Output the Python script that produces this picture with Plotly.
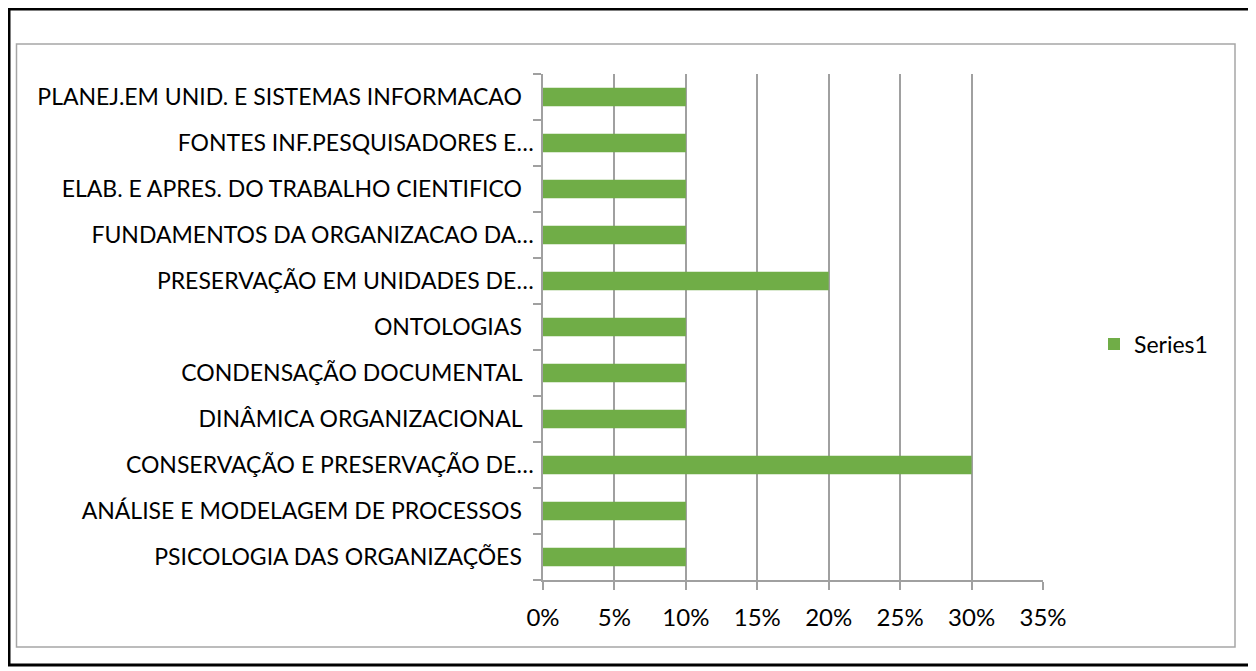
import plotly.graph_objects as go

# Categories listed bottom-to-top (as in the source chart)
categories = [
    "PSICOLOGIA DAS ORGANIZAÇÕES",
    "ANÁLISE E MODELAGEM DE PROCESSOS",
    "CONSERVAÇÃO E PRESERVAÇÃO DE…",
    "DINÂMICA ORGANIZACIONAL",
    "CONDENSAÇÃO DOCUMENTAL",
    "ONTOLOGIAS",
    "PRESERVAÇÃO EM UNIDADES DE…",
    "FUNDAMENTOS DA ORGANIZACAO DA…",
    "ELAB. E APRES. DO TRABALHO CIENTIFICO",
    "FONTES INF.PESQUISADORES E…",
    "PLANEJ.EM UNID. E SISTEMAS INFORMACAO",
]
series1 = [0.10, 0.10, 0.30, 0.10, 0.10, 0.10, 0.20, 0.10, 0.10, 0.10, 0.10]
x_ticks = [0, 0.05, 0.10, 0.15, 0.20, 0.25, 0.30, 0.35]
x_ticktext = ["0%", "5%", "10%", "15%", "20%", "25%", "30%", "35%"]

# labels that are not truncated carry trailing space in the original
ticktext = [c if c.endswith("…") else c + "\u00a0\u00a0" for c in categories]

# page body has an 8px margin -> work in page pixels and offset
OFF = 8
W, H = 1256 - OFF, 671 - OFF
L, R, T, B = 543 - OFF, 1043 - OFF, 74 - OFF, 580 - OFF

FONT = "Lato, 'Open Sans', sans-serif"
LINE = "#A0A0A0"

fig = go.Figure(
    go.Bar(
        x=series1,
        y=categories,
        orientation="h",
        name="Series1",
        marker=dict(color="#70AD47", line=dict(width=0)),
        showlegend=True,
    )
)

def px2x(px):
    return (px - OFF - L) / (R - L)

def py2y(py):
    return (B - (py - OFF)) / (B - T)

fig.update_layout(
    width=W,
    height=H,
    margin=dict(l=L, r=W - R, t=T, b=H - B, pad=0),
    paper_bgcolor="white",
    plot_bgcolor="white",
    font=dict(family=FONT, size=23, color="#000000"),
    bargap=0.6,
    showlegend=True,
    legend=dict(
        x=px2x(1094),
        y=py2y(344),
        xanchor="left",
        yanchor="middle",
        font=dict(family=FONT, size=23, color="#000000"),
        bgcolor="rgba(0,0,0,0)",
    ),
    xaxis=dict(
        range=[0, 0.35],
        tickvals=x_ticks,
        ticktext=x_ticktext,
        showgrid=True,
        gridcolor=LINE,
        gridwidth=1.5,
        zeroline=False,
        showline=True,
        linecolor=LINE,
        linewidth=1.5,
        ticks="outside",
        ticklen=8,
        tickwidth=1.5,
        tickcolor=LINE,
        ticklabelstandoff=7,
        tickfont=dict(family=FONT, size=24, color="#000000"),
    ),
    yaxis=dict(
        type="category",
        categoryorder="array",
        categoryarray=categories,
        tickvals=categories,
        ticktext=ticktext,
        tickson="boundaries",
        ticks="outside",
        ticklen=8,
        tickwidth=1.5,
        tickcolor=LINE,
        ticklabelstandoff=3,
        showline=True,
        linecolor=LINE,
        linewidth=1.5,
        showgrid=False,
        zeroline=False,
        tickfont=dict(family=FONT, size=23, color="#000000"),
    ),
    shapes=[
        # inner chart-area border (gray)
        dict(type="rect", xref="paper", yref="paper",
             x0=px2x(16.5), x1=px2x(1235), y0=py2y(647), y1=py2y(44),
             line=dict(color="#A6A6A6", width=1.5), fillcolor="rgba(0,0,0,0)", layer="below"),
        # outer black frame
        dict(type="rect", xref="paper", yref="paper",
             x0=px2x(9), x1=px2x(1250), y0=py2y(665), y1=py2y(9),
             line=dict(color="#000000", width=3), fillcolor="rgba(0,0,0,0)", layer="below"),
    ],
)

fig.write_html("out.html")
